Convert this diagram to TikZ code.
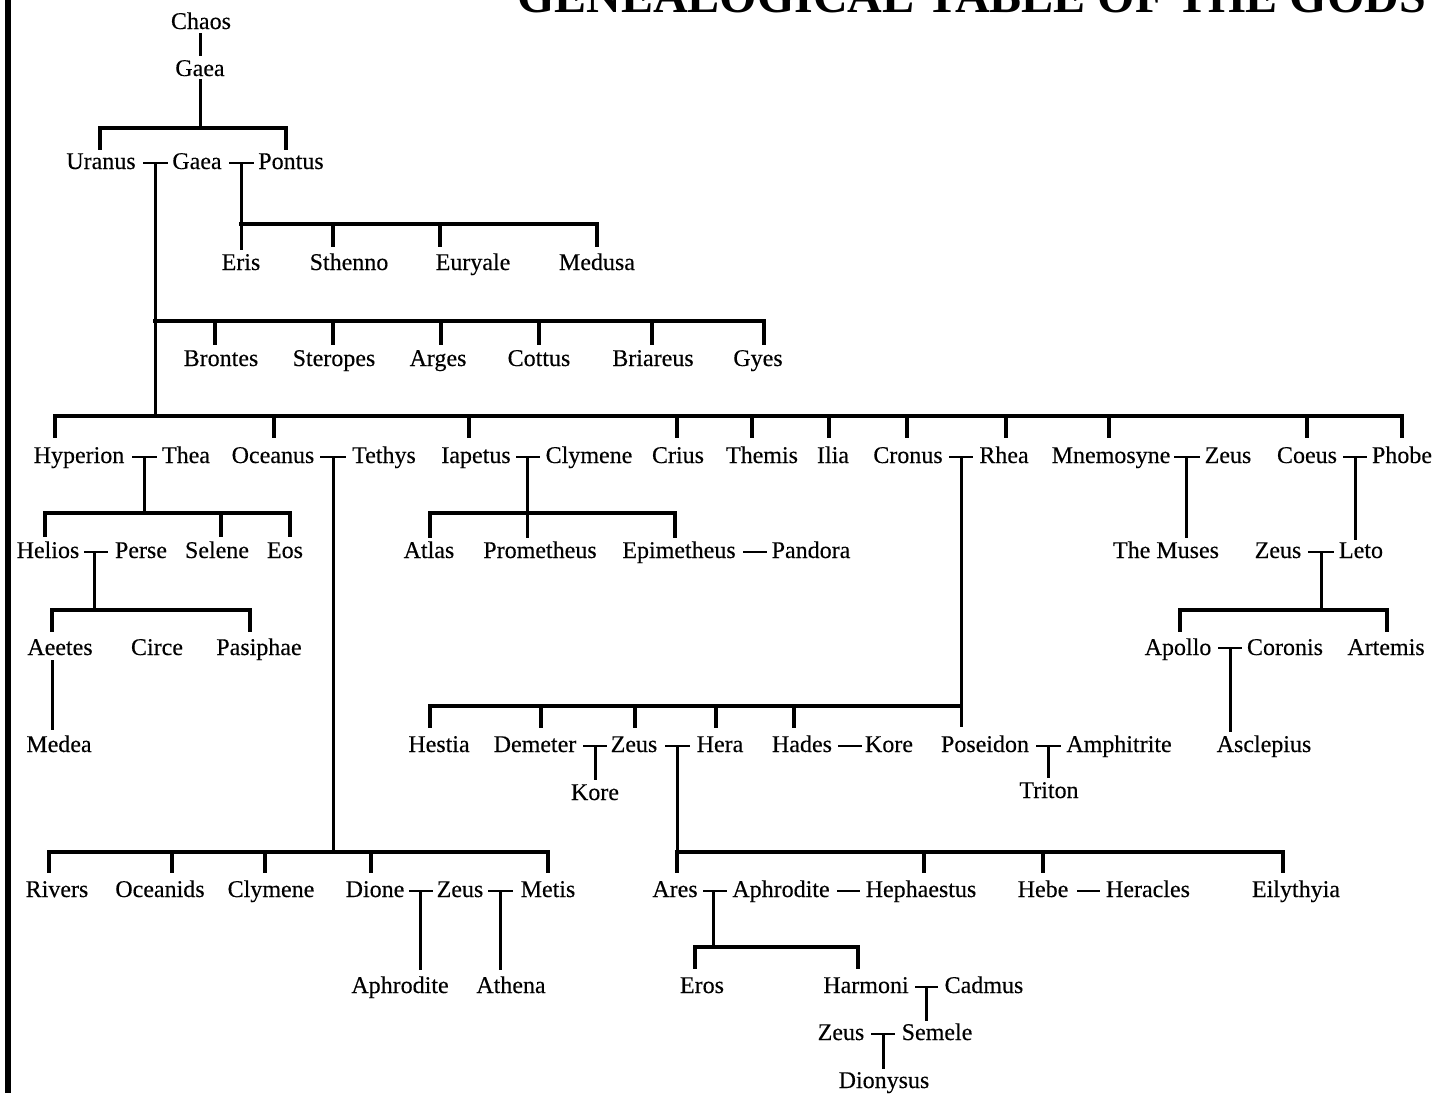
\documentclass[tikz,border=0pt]{standalone}
\usepackage{fontspec}
\setmainfont{Liberation Serif}
\newfontfamily\godfont[FakeBold=0.3]{Liberation Serif}
\begin{document}
\begin{tikzpicture}[x=1pt,y=-1pt,
  txt/.style={anchor=base, inner sep=0pt, font=\godfont\fontsize{24}{28}\selectfont},
  barline/.style={line width=4.2pt, line cap=rect},
  dropline/.style={line width=3.4pt},
  marline/.style={line width=2.5pt},
  descline/.style={line width=3pt}]
\useasboundingbox (0,0) rectangle (1434,1093);
\fill[black] (5,0) rectangle (11,1093);
\node[anchor=base west, inner sep=0pt, font=\fontsize{48}{52}\selectfont\bfseries] (title) at (517,12) {GENEALOGICAL TABLE OF THE GODS};

% ---- names ----
\node[txt] (chaos) at (201,29) {Chaos};
\node[txt] (gaeaA) at (200,76) {Gaea};
\node[txt] (uranus) at (101,169) {Uranus};
\node[txt] (gaeaB) at (197,169) {Gaea};
\node[txt] (pontus) at (291,169) {Pontus};
\node[txt] (eris) at (241,270) {Eris};
\node[txt] (sthenno) at (349,270) {Sthenno};
\node[txt] (euryale) at (473,270) {Euryale};
\node[txt] (medusa) at (597,270) {Medusa};
\node[txt] (brontes) at (221,366) {Brontes};
\node[txt] (steropes) at (334,366) {Steropes};
\node[txt] (arges) at (438,366) {Arges};
\node[txt] (cottus) at (539,366) {Cottus};
\node[txt] (briareus) at (653,366) {Briareus};
\node[txt] (gyes) at (758,366) {Gyes};
\node[txt] (hyperion) at (79,463) {Hyperion};
\node[txt] (thea) at (186,463) {Thea};
\node[txt] (oceanus) at (273,463) {Oceanus};
\node[txt] (tethys) at (384,463) {Tethys};
\node[txt] (iapetus) at (476,463) {Iapetus};
\node[txt] (clymeneA) at (589,463) {Clymene};
\node[txt] (crius) at (678,463) {Crius};
\node[txt] (themis) at (762,463) {Themis};
\node[txt] (ilia) at (833,463) {Ilia};
\node[txt] (cronus) at (908,463) {Cronus};
\node[txt] (rhea) at (1004,463) {Rhea};
\node[txt] (mnemosyne) at (1111,463) {Mnemosyne};
\node[txt] (zeusA) at (1228,463) {Zeus};
\node[txt] (coeus) at (1307,463) {Coeus};
\node[txt] (phobe) at (1402,463) {Phobe};
\node[txt] (helios) at (48,558) {Helios};
\node[txt] (perse) at (141,558) {Perse};
\node[txt] (selene) at (217,558) {Selene};
\node[txt] (eos) at (285,558) {Eos};
\node[txt] (atlas) at (429,558) {Atlas};
\node[txt] (prometheus) at (540,558) {Prometheus};
\node[txt] (epimetheus) at (679,558) {Epimetheus};
\node[txt] (pandora) at (811,558) {Pandora};
\node[txt] (muses) at (1166,558) {The Muses};
\node[txt] (zeusB) at (1278,558) {Zeus};
\node[txt] (leto) at (1361,558) {Leto};
\node[txt] (aeetes) at (60,655) {Aeetes};
\node[txt] (circe) at (157,655) {Circe};
\node[txt] (pasiphae) at (259,655) {Pasiphae};
\node[txt] (apollo) at (1178,655) {Apollo};
\node[txt] (coronis) at (1285,655) {Coronis};
\node[txt] (artemis) at (1386,655) {Artemis};
\node[txt] (medea) at (59,752) {Medea};
\node[txt] (hestia) at (439,752) {Hestia};
\node[txt] (demeter) at (535,752) {Demeter};
\node[txt] (zeusC) at (634,752) {Zeus};
\node[txt] (hera) at (720,752) {Hera};
\node[txt] (hades) at (802,752) {Hades};
\node[txt] (koreA) at (889,752) {Kore};
\node[txt] (poseidon) at (985,752) {Poseidon};
\node[txt] (amphitrite) at (1119,752) {Amphitrite};
\node[txt] (asclepius) at (1264,752) {Asclepius};
\node[txt] (koreB) at (595,800) {Kore};
\node[txt] (triton) at (1049,798) {Triton};
\node[txt] (rivers) at (57,897) {Rivers};
\node[txt] (oceanids) at (160,897) {Oceanids};
\node[txt] (clymeneB) at (271,897) {Clymene};
\node[txt] (dione) at (375,897) {Dione};
\node[txt] (zeusD) at (460,897) {Zeus};
\node[txt] (metis) at (548,897) {Metis};
\node[txt] (ares) at (675,897) {Ares};
\node[txt] (aphroditeA) at (781,897) {Aphrodite};
\node[txt] (hephaestus) at (921,897) {Hephaestus};
\node[txt] (hebe) at (1043,897) {Hebe};
\node[txt] (heracles) at (1148,897) {Heracles};
\node[txt] (eilythyia) at (1296,897) {Eilythyia};
\node[txt] (aphroditeB) at (400,993) {Aphrodite};
\node[txt] (athena) at (511,993) {Athena};
\node[txt] (eros) at (702,993) {Eros};
\node[txt] (harmoni) at (866,993) {Harmoni};
\node[txt] (cadmus) at (984,993) {Cadmus};
\node[txt] (zeusE) at (841,1040) {Zeus};
\node[txt] (semele) at (937,1040) {Semele};
\node[txt] (dionysus) at (884,1088) {Dionysus};

% ---- Chaos / Gaea ----
\draw[descline] (200,33) -- (200,56);
\draw[descline] (200,79) -- (200,128);
\draw[barline] (100,128) -- (286,128);
\foreach \x in {100,286} \draw[dropline] (\x,128) -- (\x,150);

% ---- Uranus - Gaea - Pontus ----
\draw[marline] (143,163) -- (168,163);
\draw[descline] (155,163) -- (155,416);
\draw[marline] (229,163) -- (254,163);
\draw[descline] (241,163) -- (241,250);
\draw[barline] (241,224) -- (597,224);
\foreach \x in {333,440,597} \draw[dropline] (\x,224) -- (\x,247);
\draw[barline] (155,321) -- (764,321);
\foreach \x in {215,333,441,539,652,764} \draw[dropline] (\x,321) -- (\x,345);

% ---- Titans ----
\draw[barline] (55,416) -- (1402,416);
\foreach \x in {55,274,469,677,752,829,907,1006,1109,1307,1402} \draw[dropline] (\x,416) -- (\x,438);

% Hyperion - Thea
\draw[marline] (132,457) -- (157,457);
\draw[descline] (144,457) -- (144,513);
\draw[barline] (45,513) -- (290,513);
\foreach \x in {45,221,290} \draw[dropline] (\x,513) -- (\x,537);
\draw[marline] (84,552) -- (108,552);
\draw[descline] (94,552) -- (94,610);
\draw[barline] (52,610) -- (250,610);
\foreach \x in {52,250} \draw[dropline] (\x,610) -- (\x,632);
\draw[descline] (52,660) -- (52,730);

% Oceanus - Tethys
\draw[marline] (320,457) -- (346,457);
\draw[descline] (333,457) -- (333,852);
\draw[barline] (49,852) -- (548,852);
\foreach \x in {49,172,265,371,548} \draw[dropline] (\x,852) -- (\x,873);
\draw[marline] (409,891) -- (433,891);
\draw[descline] (420,891) -- (420,970);
\draw[marline] (488,891) -- (513,891);
\draw[descline] (500,891) -- (500,970);

% Iapetus - Clymene
\draw[marline] (516,457) -- (540,457);
\draw[descline] (527,457) -- (527,538);
\draw[barline] (430,513) -- (675,513);
\foreach \x in {430,675} \draw[dropline] (\x,513) -- (\x,538);
\draw[marline] (743,552) -- (767,552);

% Cronus - Rhea
\draw[marline] (949,457) -- (973,457);
\draw[descline] (961,457) -- (961,727);
\draw[barline] (430,706) -- (961,706);
\foreach \x in {430,541,635,716,794} \draw[dropline] (\x,706) -- (\x,728);
\draw[marline] (583,746) -- (607,746);
\draw[descline] (595,746) -- (595,780);
\draw[marline] (665,746) -- (690,746);
\draw[descline] (677,746) -- (677,852);
\draw[marline] (838,746) -- (862,746);
\draw[marline] (1036,746) -- (1061,746);
\draw[descline] (1048,746) -- (1048,778);

% Zeus - Hera
\draw[barline] (677,852) -- (1283,852);
\foreach \x in {677,924,1043,1283} \draw[dropline] (\x,852) -- (\x,873);
\draw[marline] (703,891) -- (727,891);
\draw[descline] (713,891) -- (713,947);
\draw[barline] (695,947) -- (858,947);
\foreach \x in {695,858} \draw[dropline] (\x,947) -- (\x,969);
\draw[marline] (837,891) -- (860,891);
\draw[marline] (1077,891) -- (1100,891);
\draw[marline] (915,987) -- (938,987);
\draw[descline] (926,987) -- (926,1021);
\draw[marline] (871,1034) -- (895,1034);
\draw[descline] (883,1034) -- (883,1069);

% Mnemosyne - Zeus
\draw[marline] (1174,457) -- (1200,457);
\draw[descline] (1186,457) -- (1186,538);

% Coeus - Phobe
\draw[marline] (1343,457) -- (1367,457);
\draw[descline] (1355,457) -- (1355,540);
\draw[marline] (1308,552) -- (1334,552);
\draw[descline] (1321,552) -- (1321,610);
\draw[barline] (1180,610) -- (1387,610);
\foreach \x in {1180,1387} \draw[dropline] (\x,610) -- (\x,632);
\draw[marline] (1218,648) -- (1242,648);
\draw[descline] (1230,648) -- (1230,732);
\end{tikzpicture}
\end{document}
